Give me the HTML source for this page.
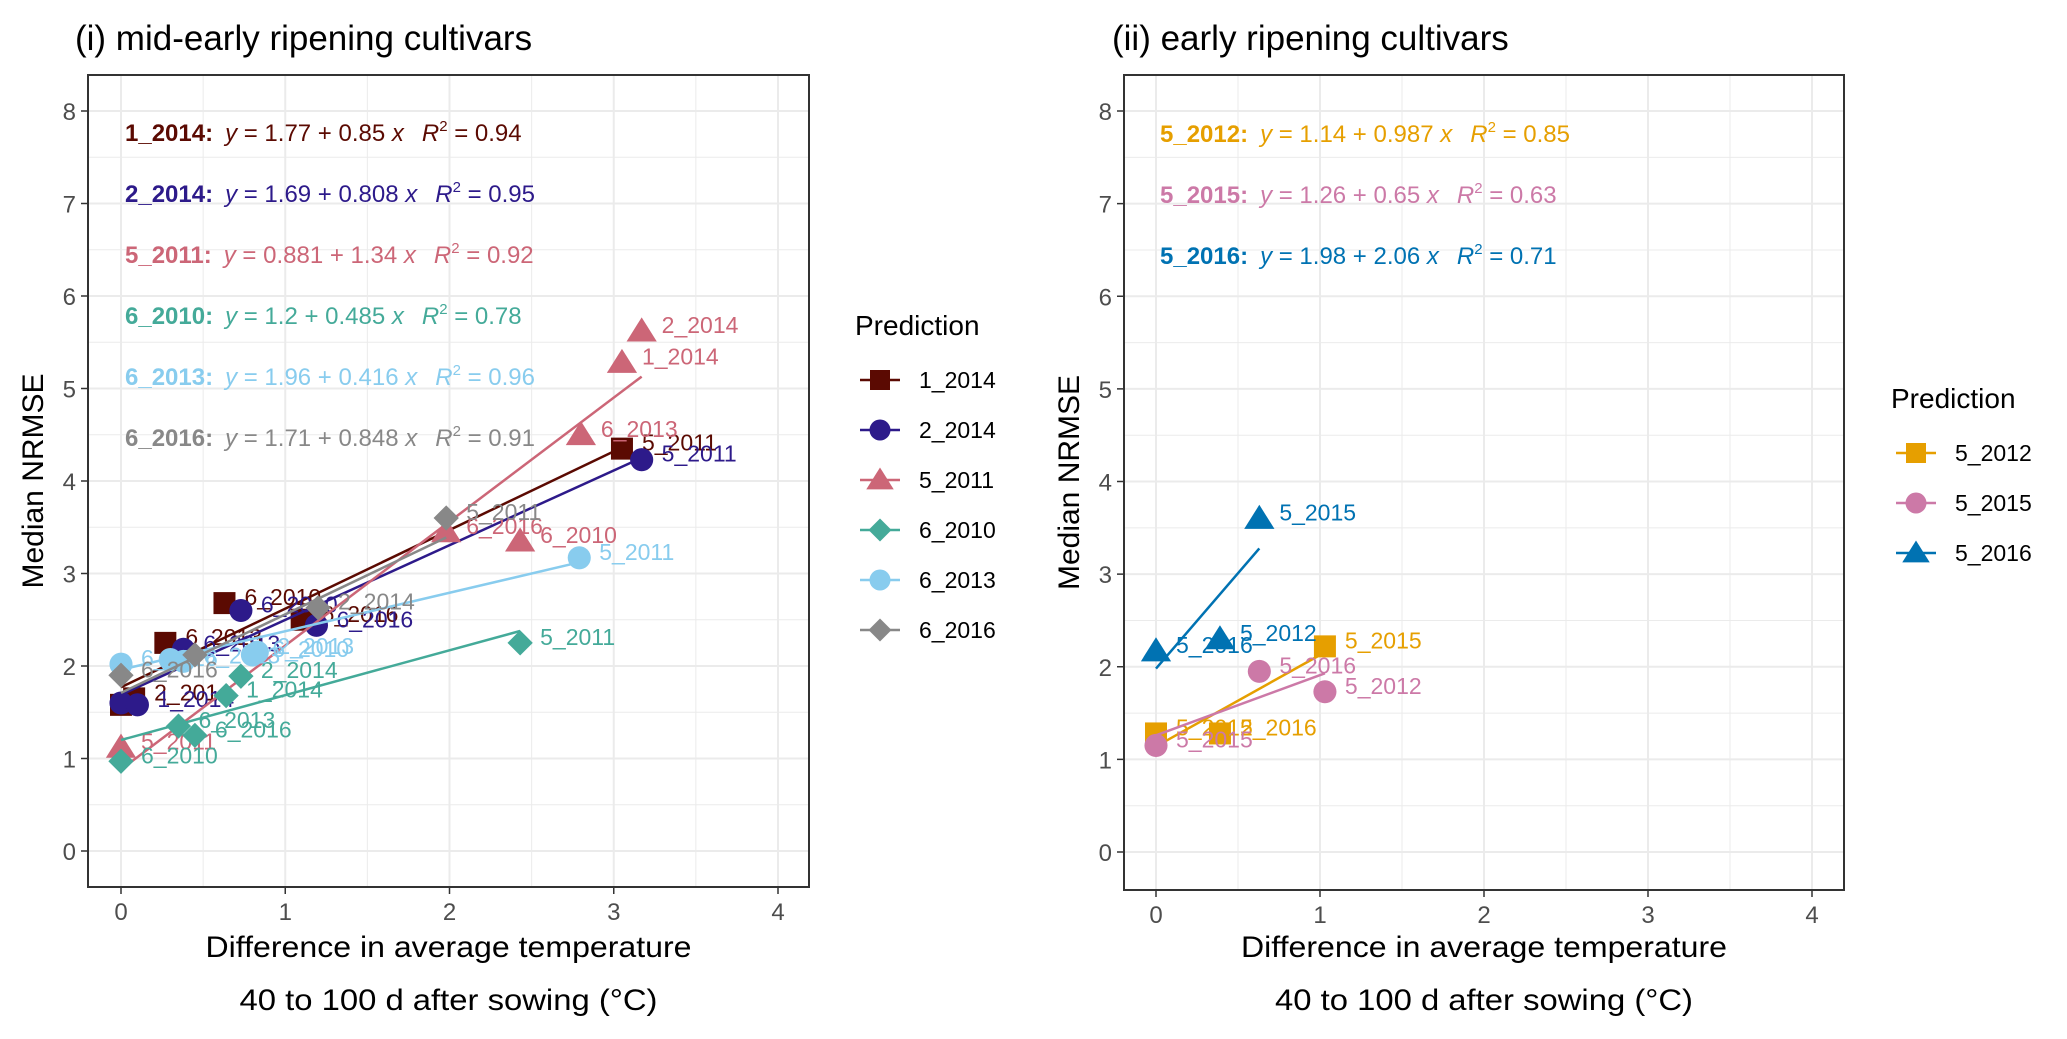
<!DOCTYPE html>
<html><head><meta charset="utf-8">
<style>
html,body{margin:0;padding:0;background:#fff;}
svg{display:block;font-family:"Liberation Sans",Arial,sans-serif;}
</style></head>
<body>
<svg id="chart" width="2067" height="1039" viewBox="0 0 2067 1039" xmlns="http://www.w3.org/2000/svg">
<rect width="2067" height="1039" fill="#fff"/>
</svg>
<script>
// ---- data ----
const xTicks = [0,1,2,3,4];
const yTicks = [0,1,2,3,4,5,6,7,8];
const s1Names = ["1_2014","2_2014","5_2011","6_2010","6_2013","6_2016"];
const s1Colors = ["#5b0a02","#2d1a8a","#cc6677","#44aa99","#88ccee","#888888"];
const s1Shapes = ["square","circle","triangle","diamond","circle","diamond"];
const s1X = [
 [0,0.08,0.27,0.63,1.1,3.05],
 [0,0.1,0.38,0.73,1.19,3.17],
 [0,1.98,2.43,2.8,3.05,3.17],
 [0,0.35,0.45,0.64,0.73,2.43],
 [0,0.3,0.38,0.8,0.83,2.79],
 [0,0.45,1.2,1.98]];
const s1Y = [
 [1.58,1.65,2.25,2.68,2.5,4.35],
 [1.6,1.58,2.18,2.6,2.44,4.23],
 [1.12,3.45,3.35,4.5,5.28,5.62],
 [0.97,1.35,1.25,1.68,1.89,2.25],
 [2.02,2.07,2.05,2.12,2.15,3.17],
 [1.9,2.12,2.63,3.6]];
const s1Labels = [
 ["","2_2014","6_2013","6_2010","6_2016","5_2011"],
 ["","1_2014","6_2013","6_2010","6_2016","5_2011"],
 ["5_2011","6_2016","6_2010","6_2013","1_2014","2_2014"],
 ["6_2010","6_2013","6_2016","1_2014","2_2014","5_2011"],
 ["6_2016","","6_2013","6_2010","2_2013","5_2011"],
 ["6_2016","","2_2014","5_2011"]];
const s1Intercept = [1.77,1.69,0.881,1.2,1.96,1.71];
const s1Slope = [0.85,0.808,1.34,0.485,0.416,0.848];
const s1Eq = ["y = 1.77 + 0.85 x","y = 1.69 + 0.808 x","y = 0.881 + 1.34 x","y = 1.2 + 0.485 x","y = 1.96 + 0.416 x","y = 1.71 + 0.848 x"];
const s1R2 = ["0.94","0.95","0.92","0.78","0.96","0.91"];

const s2Names = ["5_2012","5_2015","5_2016"];
const s2Colors = ["#e69f00","#cc79a7","#0072b2"];
const s2Shapes = ["square","circle","triangle"];
const s2X = [[0,0.39,1.03],[0,0.63,1.03],[0,0.39,0.63]];
const s2Y = [[1.28,1.28,2.22],[1.15,1.95,1.73],[2.17,2.3,3.6]];
const s2Labels = [["5_2012","5_2016","5_2015"],["5_2015","5_2016","5_2012"],["5_2016","5_2012","5_2015"]];
const s2Intercept = [1.14,1.26,1.98];
const s2Slope = [0.987,0.65,2.06];
const s2Eq = ["y = 1.14 + 0.987 x","y = 1.26 + 0.65 x","y = 1.98 + 2.06 x"];
const s2R2 = ["0.85","0.63","0.71"];

const NS="http://www.w3.org/2000/svg";
const svg=document.getElementById('chart');
function mk(tag,attrs,parent,text){const e=document.createElementNS(NS,tag);for(const k in attrs)e.setAttribute(k,attrs[k]);if(text!==undefined)e.textContent=text;(parent||svg).appendChild(e);return e;}

function shape(g,type,cx,cy,color,sz){
  let e;
  if(type==="square"){e=mk('rect',{x:cx-sz,y:cy-sz,width:2*sz,height:2*sz,fill:color},g);}
  else if(type==="circle"){e=mk('circle',{cx:cx,cy:cy,r:sz*1.05,fill:color},g);}
  else if(type==="triangle"){const h=sz*1.25;e=mk('polygon',{points:`${cx},${cy-h} ${cx+h*1.1},${cy+h*0.75} ${cx-h*1.1},${cy+h*0.75}`,fill:color},g);}
  else {const d=sz*1.15;e=mk('polygon',{points:`${cx},${cy-d} ${cx+d},${cy} ${cx},${cy+d} ${cx-d},${cy}`,fill:color},g);}
  return e;
}

function panel(cfg){
  const {fl,ft,fr,fb,x0,x4,y0,y8}=cfg;
  const sx=v=>x0+(x4-x0)*v/4;
  const sy=v=>y0-(y0-y8)*v/8;
  const g=mk('g',{});
  
  
  mk('text',{x:cfg.titleX,y:50,'font-size':cfg.titleSize,fill:'#000'},g,cfg.title);
  for(let v=-0.5;v<=8.5;v+=0.5){const y=sy(v);if(y>ft&&y<fb)mk('line',{x1:fl,x2:fr,y1:y,y2:y,stroke:'#ebebeb','stroke-width':Number.isInteger(v)?2:1},g);}
  for(let v=-0.5;v<=4.5;v+=0.5){const x=sx(v);if(x>fl&&x<fr)mk('line',{x1:x,x2:x,y1:ft,y2:fb,stroke:'#ebebeb','stroke-width':Number.isInteger(v)?2:1},g);}
  xTicks.forEach(t=>{mk('line',{x1:sx(t),x2:sx(t),y1:fb,y2:fb+7,stroke:'#333','stroke-width':1.5},g);
    const e=mk('text',{x:sx(t),y:fb+33,'font-size':24,fill:'#4d4d4d','text-anchor':'middle'},g,String(t));});
  yTicks.forEach(t=>{mk('line',{x1:fl-7,x2:fl,y1:sy(t),y2:sy(t),stroke:'#333','stroke-width':1.5},g);
    const e=mk('text',{x:fl-12,y:sy(t)+9,'font-size':24,fill:'#4d4d4d','text-anchor':'end'},g,String(t));});
  const cx=(fl+fr)/2;
  mk('text',{x:cx,y:957,'font-size':30,'text-anchor':'middle',fill:'#000',textLength:486,lengthAdjust:'spacingAndGlyphs'},g,'Difference in average temperature');
  mk('text',{x:cx,y:1010,'font-size':30,'text-anchor':'middle',fill:'#000',textLength:418,lengthAdjust:'spacingAndGlyphs'},g,'40 to 100 d after sowing (°C)');
  mk('text',{x:0,y:0,'font-size':30,'text-anchor':'middle',fill:'#000',transform:`translate(${fl-45},${(ft+fb)/2}) rotate(-90)`},g,'Median NRMSE');
  const d=cfg.data;
  d.names.forEach((nm,i)=>{
    const sg=mk('g',{},g);
    
    
    const xmax=Math.max(...d.xs[i]);
    const ln=mk('line',{x1:sx(0),y1:sy(d.b0[i]),x2:sx(xmax),y2:sy(d.b0[i]+d.b1[i]*xmax),stroke:d.colors[i],'stroke-width':2.5},sg);
    
    d.xs[i].forEach((xv,j)=>{
      const p=shape(sg,d.shapes[i],sx(xv),sy(d.ys[i][j]),d.colors[i],11);
      
      
      if(d.labels[i][j]){const t=mk('text',{x:sx(xv)+20,y:sy(d.ys[i][j])+2,'font-size':23,fill:d.colors[i]},sg,d.labels[i][j]);
        }
    });
    const ey=cfg.eqY0+i*61;
    const t=mk('text',{x:cfg.eqX,y:ey,'font-size':cfg.eqSize,fill:d.colors[i]},g);
    
    mk('tspan',{'font-weight':'bold'},t,nm+':');
    mk('tspan',{dx:12,'font-style':'italic'},t,'y');
    mk('tspan',{},t,d.eq[i].slice(1,d.eq[i].length-1));
    mk('tspan',{'font-style':'italic'},t,'x');
    mk('tspan',{dx:18,'font-style':'italic'},t,'R');
    mk('tspan',{dy:-10,'font-size':15},t,'2');
    mk('tspan',{dy:10},t,' = '+d.r2[i]);
  });
  mk('rect',{x:fl,y:ft,width:fr-fl,height:fb-ft,fill:'none',stroke:'#333','stroke-width':2},g);
  const lg=mk('g',{},svg);
  
  
  mk('text',{x:cfg.legX,y:cfg.legY,'font-size':28,fill:'#000'},lg,'Prediction');
  d.names.forEach((nm,i)=>{
    const y=cfg.legY+45+i*50;
    const eg=mk('g',{},lg);
    
    
    mk('line',{x1:cfg.legX+5,x2:cfg.legX+45,y1:y,y2:y,stroke:d.colors[i],'stroke-width':2.5},eg);
    shape(eg,d.shapes[i],cfg.legX+25,y,d.colors[i],10);
    mk('text',{x:cfg.legX+64,y:y+8,'font-size':23,fill:'#000'},eg,nm);
  });
}

panel({name:'panel-mid-early',title:'(i) mid-early ripening cultivars',titleX:75,titleSize:35,fl:88,ft:75,fr:809,fb:887,x0:121,x4:778,y0:851,y8:111,
  eqX:125,eqY0:141,eqSize:24,legX:855,legY:335,
  data:{names:s1Names,colors:s1Colors,shapes:s1Shapes,xs:s1X,ys:s1Y,labels:s1Labels,b0:s1Intercept,b1:s1Slope,eq:s1Eq,r2:s1R2}});
panel({name:'panel-early',title:'(ii) early ripening cultivars',titleX:1112,titleSize:35,fl:1124,ft:75,fr:1844,fb:890,x0:1156,x4:1812,y0:852,y8:111,
  eqX:1160,eqY0:142,eqSize:24,legX:1891,legY:408,
  data:{names:s2Names,colors:s2Colors,shapes:s2Shapes,xs:s2X,ys:s2Y,labels:s2Labels,b0:s2Intercept,b1:s2Slope,eq:s2Eq,r2:s2R2}});
</script>
</body></html>
